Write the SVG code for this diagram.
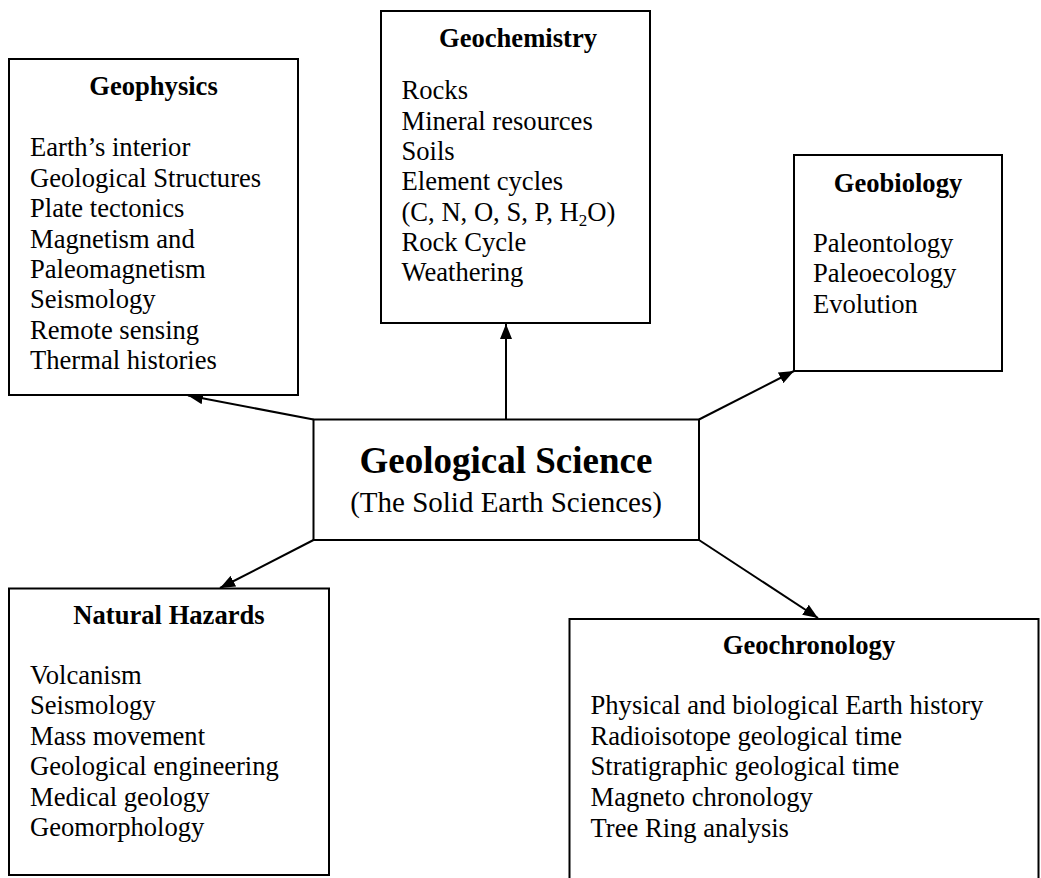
<svg xmlns="http://www.w3.org/2000/svg" width="1041" height="878" viewBox="0 0 1041 878">
  <style>
    .box { fill: #ffffff; stroke: #000000; stroke-width: 2; }
    .title { font-family: "Liberation Serif", "Times New Roman", serif; font-weight: bold; font-size: 26.6px; fill: #000000; text-anchor: middle; }
    .body { font-family: "Liberation Serif", "Times New Roman", serif; font-size: 26.6px; fill: #000000; }
    .main { font-family: "Liberation Serif", "Times New Roman", serif; font-weight: bold; font-size: 37px; fill: #000000; text-anchor: middle; }
    .sub { font-family: "Liberation Serif", "Times New Roman", serif; font-size: 29px; fill: #000000; text-anchor: middle; }
    .link { fill: none; stroke: #000000; stroke-width: 2; marker-end: url(#arrow); }
  </style>
  <defs>
    <marker id="arrow" markerUnits="userSpaceOnUse" markerWidth="16" markerHeight="12" refX="15" refY="6" orient="auto">
      <path d="M0,0 L15,6 L0,12 z" fill="#000000"/>
    </marker>
  </defs>
  <rect width="1041" height="878" fill="#ffffff"/>

  <!-- connectors from the central box to each discipline -->
  <g id="connectors">
    <line class="link" x1="313.5" y1="419.5" x2="188" y2="395.5"/>
    <line class="link" x1="506" y1="419.5" x2="506" y2="324"/>
    <line class="link" x1="699" y1="419.5" x2="794" y2="371"/>
    <line class="link" x1="313.5" y1="540" x2="220" y2="588"/>
    <line class="link" x1="699" y1="540" x2="818" y2="618"/>
  </g>

  <g id="geophysics">
    <rect class="box" x="9" y="59" width="289" height="336"/>
    <text class="title" x="153.5" y="95">Geophysics</text>
    <text class="body">
      <tspan x="30" y="156">Earth’s interior</tspan>
      <tspan x="30" y="186.5">Geological Structures</tspan>
      <tspan x="30" y="217">Plate tectonics</tspan>
      <tspan x="30" y="247.5">Magnetism and</tspan>
      <tspan x="30" y="278">Paleomagnetism</tspan>
      <tspan x="30" y="308">Seismology</tspan>
      <tspan x="30" y="338.5">Remote sensing</tspan>
      <tspan x="30" y="369">Thermal histories</tspan>
    </text>
  </g>

  <g id="geochemistry">
    <rect class="box" x="381" y="11" width="269" height="312"/>
    <text class="title" x="518" y="47">Geochemistry</text>
    <text class="body">
      <tspan x="401.5" y="99">Rocks</tspan>
      <tspan x="401.5" y="129.5">Mineral resources</tspan>
      <tspan x="401.5" y="160">Soils</tspan>
      <tspan x="401.5" y="190">Element cycles</tspan>
      <tspan x="401.5" y="220.5">(C, N, O, S, P, H<tspan font-size="17px" dy="5">2</tspan><tspan dy="-5">O)</tspan></tspan>
      <tspan x="401.5" y="251">Rock Cycle</tspan>
      <tspan x="401.5" y="281">Weathering</tspan>
    </text>
  </g>

  <g id="geobiology">
    <rect class="box" x="794" y="155" width="208" height="216"/>
    <text class="title" x="898" y="192">Geobiology</text>
    <text class="body">
      <tspan x="813" y="252">Paleontology</tspan>
      <tspan x="813" y="282">Paleoecology</tspan>
      <tspan x="813" y="312.5">Evolution</tspan>
    </text>
  </g>

  <g id="geological-science">
    <rect class="box" x="313.5" y="419.5" width="385.5" height="120.5"/>
    <text class="main" x="506" y="472.5">Geological Science</text>
    <text class="sub" x="506" y="512">(The Solid Earth Sciences)</text>
  </g>

  <g id="natural-hazards">
    <rect class="box" x="9" y="588.5" width="320" height="286.5"/>
    <text class="title" x="169" y="623.5">Natural Hazards</text>
    <text class="body">
      <tspan x="30" y="683.5">Volcanism</tspan>
      <tspan x="30" y="714">Seismology</tspan>
      <tspan x="30" y="745">Mass movement</tspan>
      <tspan x="30" y="775">Geological engineering</tspan>
      <tspan x="30" y="805.5">Medical geology</tspan>
      <tspan x="30" y="835.5">Geomorphology</tspan>
    </text>
  </g>

  <g id="geochronology">
    <rect class="box" x="569.5" y="619" width="469" height="280"/>
    <text class="title" x="809" y="653.5">Geochronology</text>
    <text class="body">
      <tspan x="590.5" y="714">Physical and biological Earth history</tspan>
      <tspan x="590.5" y="745">Radioisotope geological time</tspan>
      <tspan x="590.5" y="775">Stratigraphic geological time</tspan>
      <tspan x="590.5" y="805.5">Magneto chronology</tspan>
      <tspan x="590.5" y="836.5">Tree Ring analysis</tspan>
    </text>
  </g>
</svg>
